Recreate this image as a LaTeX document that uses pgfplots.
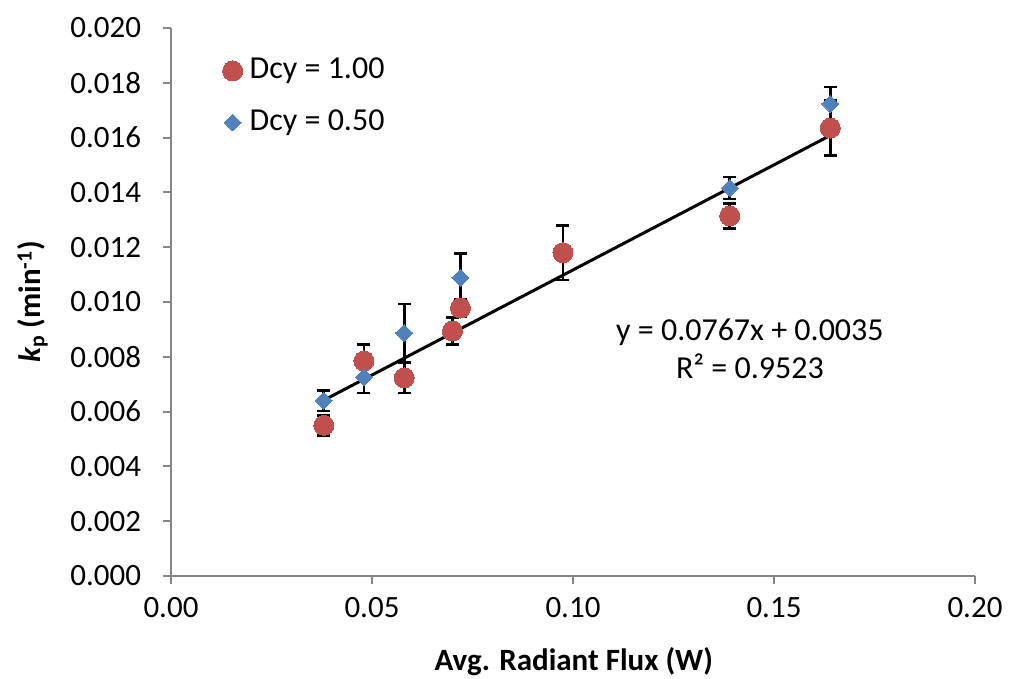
\documentclass[border=0pt]{standalone}
\usepackage{fontspec}
\setmainfont{Carlito}
\usepackage{pgfplots}
\usepackage{pgfplotstable}
\pgfplotsset{compat=1.18}
\definecolor{axgray}{HTML}{868686}
\definecolor{exred}{HTML}{C0504D}
\definecolor{exblue}{HTML}{4F81BD}

\pgfplotstableread{
x y e
0.038 0.0055 0.00037
0.048 0.00785 0.0006
0.058 0.00723 0.00055
0.070 0.00894 0.0005
0.072 0.00978 0.0003
0.0975 0.0118 0.001
0.139 0.01314 0.00045
0.164 0.01635 0.001
}\redtab

\pgfplotstableread{
x y e
0.038 0.0064 0.00038
0.048 0.00726 0.00058
0.058 0.00887 0.00106
0.072 0.01088 0.00088
0.139 0.01416 0.0004
0.164 0.01723 0.00062
}\bluetab

\begin{document}
\fontsize{32}{38}\selectfont
\begin{tikzpicture}
\begin{axis}[
  name=ax,
  scale only axis,
  width=804pt, height=548pt,
  xmin=0, xmax=0.2, ymin=0, ymax=0.02,
  xtick={0,0.05,0.1,0.15,0.2},
  ytick={0,0.002,...,0.0201},
  scaled ticks=false,
  axis x line=bottom, axis y line=left,
  axis line style={-, draw=axgray, line width=2pt},
  tick style={draw=axgray, line width=2pt},
  tick align=outside,
  major tick length=8pt,
  /pgf/number format/assume math mode=true,
  xticklabel style={/pgf/number format/.cd, fixed, fixed zerofill, precision=2, /tikz/yshift=-3pt},
  yticklabel style={/pgf/number format/.cd, fixed, fixed zerofill, precision=3, /tikz/xshift=-11pt},
  tick label style={font=\fontsize{31}{37}\selectfont, text=black},
  xlabel={\textbf{Avg. Radiant Flux (W)}},
  ylabel={\textbf{\textit{k}\textsubscript{p} (min\textsuperscript{-1})}},
  xlabel style={at={(axis description cs:0.501,-0.157)}, anchor=center, font=\fontsize{31}{37}\selectfont},
  ylabel style={at={(axis description cs:-0.172,0.5)}, anchor=center, font=\fontsize{31}{37}\selectfont},
  legend style={draw=none, fill=none, at={(axis description cs:0.064,0.949)}, anchor=north west,
    font=\fontsize{32}{38}\selectfont, row sep=22pt, inner sep=0pt},
  legend cell align=left,
  clip=false,
]
% error bars
\addplot[only marks, mark=none, forget plot,
  error bars/.cd, y dir=both, y explicit, error mark=|,
  error bar style={draw=black, line width=2.7pt},
  error mark options={draw=black, line width=2.7pt, mark size=6.5pt}]
  table[x=x, y=y, y error=e] {\redtab};
\addplot[only marks, mark=none, forget plot,
  error bars/.cd, y dir=both, y explicit, error mark=|,
  error bar style={draw=black, line width=2.7pt},
  error mark options={draw=black, line width=2.7pt, mark size=6.5pt}]
  table[x=x, y=y, y error=e] {\bluetab};
% markers
\addplot[only marks, mark=*, mark size=10pt, mark options={fill=exred, draw=exred, line width=0pt}]
  table[x=x, y=y] {\redtab};
\addlegendentry{\hspace{5pt}Dcy = 1.00}
\addplot[only marks, mark=square*, mark size=6pt, mark options={rotate=45, fill=exblue, draw=exblue, line width=0pt}]
  table[x=x, y=y] {\bluetab};
\addlegendentry{\hspace{5pt}Dcy = 0.50}
% trendline
\addplot[black, line width=3pt, mark=none, forget plot] coordinates {(0.038,0.0064146) (0.164,0.0160788)};
\node[align=center, font=\fontsize{32}{38}\selectfont] at (axis cs:0.144,0.00828) {y = 0.0767x + 0.0035\\R² = 0.9523};
\end{axis}
\pgfresetboundingbox
\path[use as bounding box] ([shift={(-171pt,-103pt)}]ax.south west) rectangle ([shift={(34pt,28pt)}]ax.north east);
\end{tikzpicture}
\end{document}
